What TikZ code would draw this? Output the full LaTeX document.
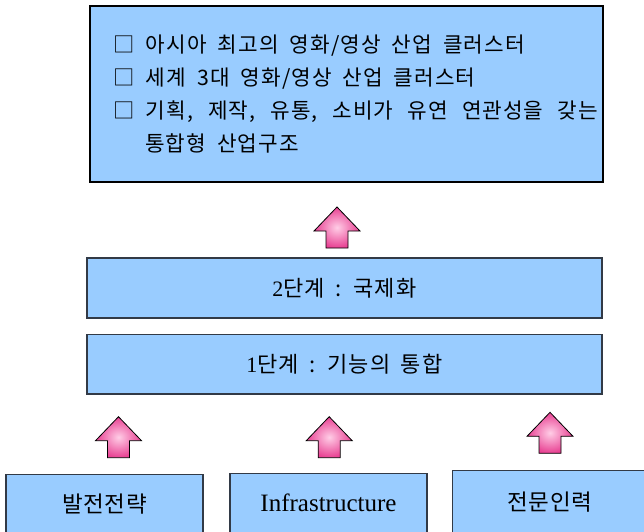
\documentclass[tikz,border=0pt]{standalone}
\usepackage{fontspec}
\setmainfont{Liberation Serif}
\newfontfamily\krtop[LetterSpace=5]{Noto Sans CJK KR}
\newfontfamily\krmid[LetterSpace=6]{Noto Sans CJK KR}
\newfontfamily\krbase[LetterSpace=3]{Noto Sans CJK KR}
\newcommand\topspacing{\spaceskip=11pt plus 4pt minus 1pt\relax}
\newcommand\midspacing{\spaceskip=10pt\relax}
\definecolor{boxblue}{RGB}{153,204,255}
\definecolor{pinkout}{RGB}{232,64,146}
\definecolor{pinkin}{RGB}{255,205,230}
\definecolor{edgegray}{RGB}{50,58,70}
\begin{document}
\begin{tikzpicture}[x=1pt,y=-1pt,
  bluebox/.style={draw=edgegray, fill=boxblue, line width=1.2pt, inner sep=0pt},
  linetext/.style={anchor=base west, inner sep=0pt, font=\krtop\fontsize{21.3}{23}\selectfont\topspacing},
  midtext/.style={font=\fontsize{22}{24}\selectfont},
  uparrow/.pic={\shade[inner color=pinkin, outer color=pinkout, draw=black, line width=0.8pt, line join=miter]
    (0,0) -- (23,24) -- (11,24) -- (11,41) -- (-11,41) -- (-11,24) -- (-23,24) -- cycle;}]
\useasboundingbox (0,0) rectangle (644,531);
\begin{scope}
\clip (0,0) rectangle (644,531);
% goal box
\node[bluebox, draw=black, line width=2pt, minimum width=513pt, minimum height=176pt] (goal) at (346.5,94) {};
\node[linetext] (l1) at (113.5,52.5) {□ 아시아 최고의 영화/영상 산업 클러스터};
\node[linetext] (l2) at (113.5,85.5) {□ 세계 3대 영화/영상 산업 클러스터};
\node[linetext] (l3) at (113.5,118.5) {□ \makebox[452pt][s]{기획, 제작, 유통, 소비가 유연 연관성을 갖는}};
\node[linetext] (l4) at (145,151.5) {통합형 산업구조};
% arrow to goal
\pic at (337,207) {uparrow};
% stages
\node[bluebox, minimum width=515pt, minimum height=60pt, midtext] (s2) at (344.5,288) {2\krmid\midspacing 단계 : 국제화};
\node[bluebox, minimum width=515pt, minimum height=59.5pt, midtext] (s1) at (344.5,364.2) {1\krmid\midspacing 단계 : 기능의 통합};
% arrows from bases
\pic at (118.5,416.7) {uparrow};
\pic at (329.2,416.7) {uparrow};
\pic at (550,412.3) {uparrow};
% base boxes
\node[bluebox, anchor=north, minimum width=197pt, text height=38.3pt, text depth=28.4pt, font=\krbase\fontsize{22.5}{24}\selectfont] (b1) at (104.5,474) {발전전략};
\node[bluebox, anchor=north, minimum width=197pt, text height=38pt, text depth=30pt, font=\fontsize{25}{27}\selectfont] (b2) at (328.5,472.7) {Infrastructure};
\node[bluebox, anchor=north, minimum width=195pt, text height=40pt, text depth=30.7pt, font=\krbase\fontsize{22.5}{24}\selectfont] (b3) at (549.7,470) {전문인력};
\end{scope}
\end{tikzpicture}
\end{document}
